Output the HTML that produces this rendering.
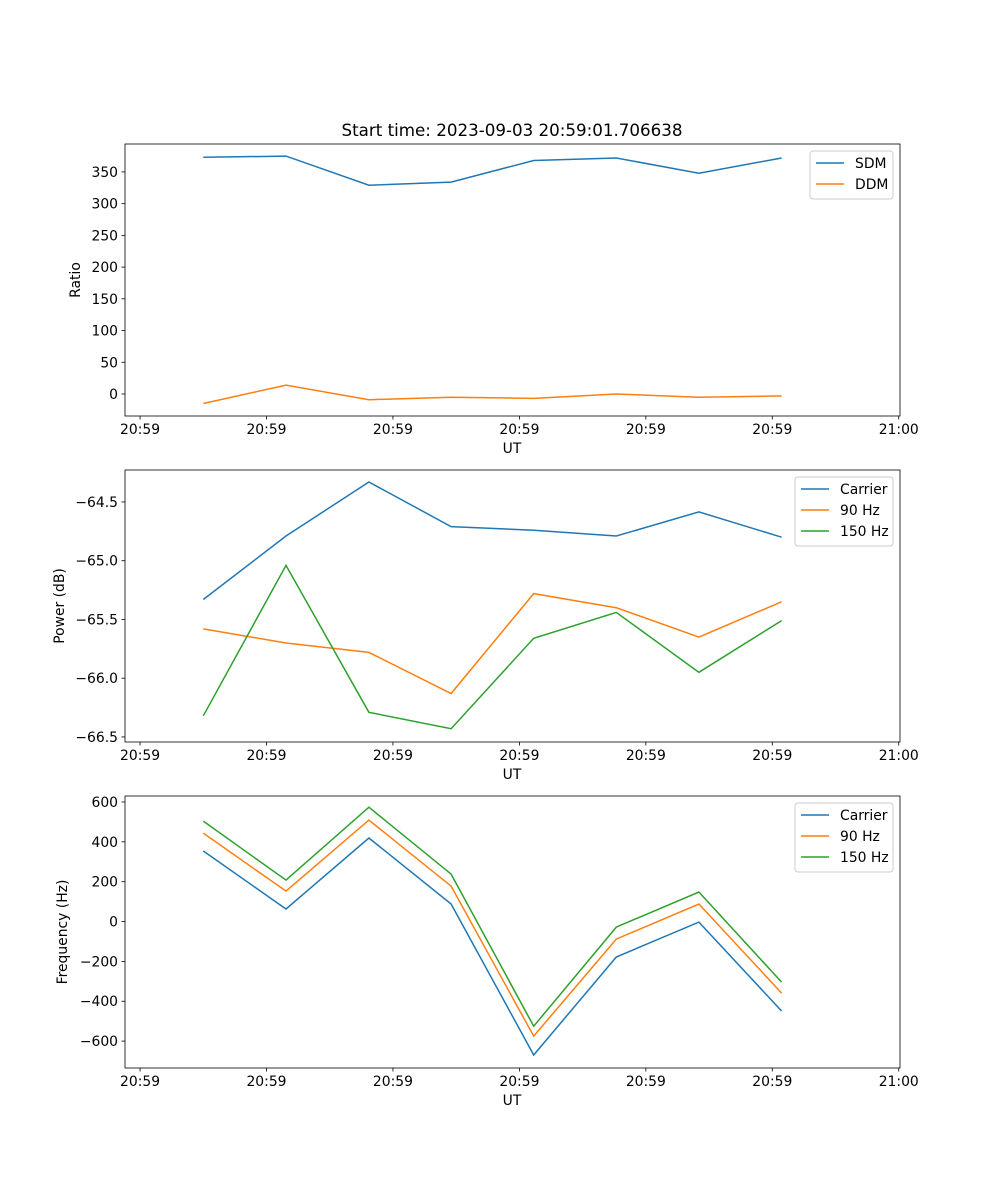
<!DOCTYPE html>
<html><head><meta charset="utf-8"><style>
body{margin:0;background:#fff}
svg{display:block;font-family:"DejaVu Sans","Liberation Sans",sans-serif}
</style></head><body>
<svg id="fig" width="1000" height="1200" xmlns="http://www.w3.org/2000/svg">
<rect width="1000" height="1200" fill="#fff"/>
<text x="512" y="136" font-size="16.7" text-anchor="middle">Start time: 2023-09-03 20:59:01.706638</text>
</svg>
<script>
const times = [5.0, 11.54, 18.1, 24.6, 31.13, 37.66, 44.2, 50.74];
const xTicks = [0, 10, 20, 30, 40, 50, 60];
const xTickLabels = ["20:59","20:59","20:59","20:59","20:59","20:59","21:00"];
const sdm = [373, 375, 329, 334, 368, 372, 348, 372];
const ddm = [-15, 14, -9, -5, -7, 0, -5, -3];
const pCarrier = [-65.33, -64.79, -64.33, -64.71, -64.74, -64.79, -64.585, -64.80];
const p90 = [-65.58, -65.70, -65.78, -66.13, -65.28, -65.40, -65.65, -65.35];
const p150 = [-66.32, -65.04, -66.29, -66.43, -65.66, -65.44, -65.95, -65.51];
const fCarrier = [354, 63, 419, 88, -670, -178, -3, -449];
const f90 = [444, 153, 509, 178, -575, -88, 88, -359];
const f150 = [504, 208, 574, 238, -525, -28, 148, -304];
const ticks1 = [0, 50, 100, 150, 200, 250, 300, 350];
const ticks2 = [-66.5, -66.0, -65.5, -65.0, -64.5];
const ticks3 = [-600, -400, -200, 0, 200, 400, 600];

const NS = "http://www.w3.org/2000/svg";
const svg = document.getElementById('fig');
function mk(tag, attrs, parent){const e=document.createElementNS(NS,tag);for(const k in attrs)e.setAttribute(k,attrs[k]);(parent||svg).appendChild(e);return e;}
const L=125,R=900,XMIN=-1.19,XMAX=60.1;
const xs=v=>L+(v-XMIN)/(XMAX-XMIN)*(R-L);
const colors=["#1f77b4","#ff7f0e","#2ca02c"];

function panel(name,top,bot,ymin,ymax,yt,fmt,series,labels,ylabel,legW){
  const g=mk('g',{});
  
  
  const ys=v=>bot-(v-ymin)/(ymax-ymin)*(bot-top);
  series.forEach((s,i)=>{
    const p=mk('polyline',{points:s.map((v,j)=>xs(times[j]).toFixed(1)+','+ys(v).toFixed(1)).join(' '),fill:'none',stroke:colors[i],'stroke-width':1.5},g);
    
    
  });
  const fr=mk('rect',{x:L,y:top,width:R-L,height:bot-top,fill:'none',stroke:'#000','stroke-width':0.8},g);
  
  
  xTicks.forEach((t,i)=>{
    const x=xs(t);
    mk('line',{x1:x,x2:x,y1:bot,y2:bot+3.5,stroke:'#000','stroke-width':0.8},g);
    const tx=mk('text',{x:x,y:bot+18,'font-size':13.9,'text-anchor':'middle'},g);
    tx.textContent=xTickLabels[i];
    
    
  });
  const xl=mk('text',{x:512,y:bot+37,'font-size':13.9,'text-anchor':'middle'},g);
  xl.textContent='UT';
  
  
  yt.forEach(t=>{
    const y=ys(t);
    mk('line',{x1:L-3.5,x2:L,y1:y,y2:y,stroke:'#000','stroke-width':0.8},g);
    const tx=mk('text',{x:L-7,y:y+5,'font-size':13.9,'text-anchor':'end'},g);
    tx.textContent=fmt(t);
    
    
  });
  const cy=(top+bot)/2;
  const yl=mk('text',{x:0,y:0,'font-size':13.9,'text-anchor':'middle',transform:`translate(${ylabel[1]},${cy}) rotate(-90)`},g);
  yl.textContent=ylabel[0];
  
  
  const lg=mk('g',{},g);
  
  
  const lx=R-7-legW, ly=top+7;
  mk('rect',{x:lx,y:ly,width:legW,height:labels.length*21+6,rx:3,fill:'#fff','fill-opacity':0.8,stroke:'#ccc'},lg);
  labels.forEach((lb,i)=>{
    const y=ly+12+i*21;
    mk('line',{x1:lx+6,x2:lx+34,y1:y,y2:y,stroke:colors[i],'stroke-width':1.5},lg);
    const t=mk('text',{x:lx+45,y:y+5,'font-size':13.9},lg);
    t.textContent=lb;
    
    
  });
}
const minus=s=>String(s).replace('-','\u2212');
panel('ratio-panel',144,416,-34.7,394,ticks1,t=>minus(t),[sdm,ddm],['SDM','DDM'],['Ratio',80],83);
panel('power-panel',470,742,-66.543,-64.228,ticks2,t=>minus(t.toFixed(1)),[pCarrier,p90,p150],['Carrier','90 Hz','150 Hz'],['Power (dB)',64],98);
panel('frequency-panel',796,1068,-735,630,ticks3,t=>minus(t),[fCarrier,f90,f150],['Carrier','90 Hz','150 Hz'],['Frequency (Hz)',67],98);
</script>
</body></html>
